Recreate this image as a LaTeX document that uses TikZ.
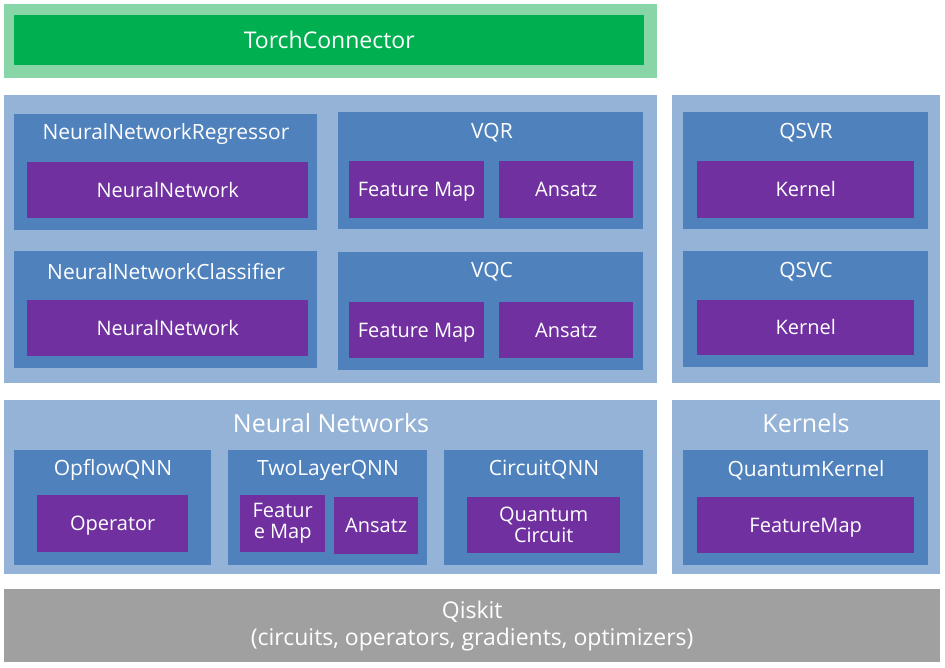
\documentclass[tikz,border=0pt]{standalone}
\usepackage{fontspec}
\setmainfont{Open Sans}
\definecolor{torchlight}{HTML}{88D5A8}
\definecolor{torchgreen}{HTML}{00B050}
\definecolor{panelblue}{HTML}{95B3D7}
\definecolor{blockblue}{HTML}{4F81BD}
\definecolor{partpurple}{HTML}{7030A0}
\definecolor{basegray}{HTML}{A0A0A0}
\begin{document}
\begin{tikzpicture}[x=1pt, y=-1pt, every node/.append style={text=white, inner sep=0pt, font=\fontsize{20}{21}\selectfont},
	panel/.style={fill=panelblue, anchor=north west},
	block/.style={fill=blockblue, anchor=north west},
	part/.style={fill=partpurple, anchor=north west, align=center},
	oneline/.style={text height=16pt, text depth=1.7pt},
	title/.style={anchor=center, font=\fontsize{21}{24}\selectfont},
	bigtitle/.style={anchor=center, font=\fontsize{25}{28}\selectfont}]
	\useasboundingbox (0,0) rectangle (945,668);
	
	% torch connector
	\node[fill=torchlight, anchor=north west, minimum width=653pt, minimum height=74pt] (torchbg) at (4,4) {};
	\node[fill=torchgreen, anchor=north west, minimum width=630pt, minimum height=50pt, font=\fontsize{23}{26}\selectfont] (torch) at (14,15) {TorchConnector};
	
	% algorithms
	\node[panel, minimum width=653pt, minimum height=288pt] (algos) at (4,95) {};
	\node[panel, minimum width=268pt, minimum height=288pt] (kalgos) at (672,95) {};
	
	\node[block, minimum width=303pt, minimum height=116pt] (nnr) at (14,114) {};
	\node[title] (nnrtitle) at (166,134) {NeuralNetworkRegressor};
	\node[part, oneline, minimum width=281pt, minimum height=56pt] (nnrnet) at (27,162) {NeuralNetwork};
	
	\node[block, minimum width=305pt, minimum height=117pt] (vqr) at (338,112) {};
	\node[title] (vqrtitle) at (492,133) {VQR};
	\node[part, oneline, minimum width=135pt, minimum height=57pt] (vqrmap) at (349,161) {Feature Map};
	\node[part, oneline, minimum width=134pt, minimum height=57pt] (vqransatz) at (499,161) {Ansatz};
	
	\node[block, minimum width=303pt, minimum height=117pt] (nnc) at (14,251) {};
	\node[title] (nnctitle) at (166,272) {NeuralNetworkClassifier};
	\node[part, oneline, minimum width=281pt, minimum height=56pt] (nncnet) at (27,300) {NeuralNetwork};
	
	\node[block, minimum width=305pt, minimum height=118pt] (vqc) at (338,252) {};
	\node[title] (vqctitle) at (492,272) {VQC};
	\node[part, oneline, minimum width=135pt, minimum height=56pt] (vqcmap) at (349,302) {Feature Map};
	\node[part, oneline, minimum width=134pt, minimum height=56pt] (vqcansatz) at (499,302) {Ansatz};
	
	\node[block, minimum width=245pt, minimum height=117pt] (qsvr) at (683,112) {};
	\node[title] (qsvrtitle) at (806,133) {QSVR};
	\node[part, oneline, minimum width=217pt, minimum height=57pt] (qsvrkernel) at (697,161) {Kernel};
	
	\node[block, minimum width=245pt, minimum height=116pt] (qsvc) at (683,251) {};
	\node[title] (qsvctitle) at (806,272) {QSVC};
	\node[part, oneline, minimum width=217pt, minimum height=55pt] (qsvckernel) at (697,300) {Kernel};
	
	% neural networks and kernels
	\node[panel, minimum width=653pt, minimum height=174pt] (nets) at (4,400) {};
	\node[bigtitle] (netstitle) at (331,423) {Neural Networks};
	\node[panel, minimum width=268pt, minimum height=174pt] (kernels) at (672,400) {};
	\node[bigtitle] (kernelstitle) at (806,423) {Kernels};
	
	\node[block, minimum width=197pt, minimum height=115pt] (opflow) at (14,450) {};
	\node[title] (opflowtitle) at (113,470) {OpflowQNN};
	\node[part, oneline, minimum width=151pt, minimum height=57pt] (operator) at (37,495) {Operator};
	
	\node[block, minimum width=199pt, minimum height=115pt] (twolayer) at (228,450) {};
	\node[title] (twolayertitle) at (328,470) {TwoLayerQNN};
	\node[part, minimum width=85pt, minimum height=57pt] (twomap) at (240,495) {Featur\\e Map};
	\node[part, oneline, minimum width=84pt, minimum height=57pt] (twoansatz) at (334,497) {Ansatz};
	
	\node[block, minimum width=199pt, minimum height=115pt] (circuitqnn) at (444,450) {};
	\node[title] (circuitqnntitle) at (544,470) {CircuitQNN};
	\node[part, minimum width=153pt, minimum height=56pt] (circuit) at (467,497) {Quantum\\Circuit};
	
	\node[block, minimum width=245pt, minimum height=115pt] (qkernel) at (683,450) {};
	\node[title] (qkerneltitle) at (806,470) {QuantumKernel};
	\node[part, oneline, minimum width=217pt, minimum height=56pt] (featuremap) at (697,497) {FeatureMap};
	
	% qiskit
	\node[fill=basegray, anchor=north west, align=center, minimum width=936pt, minimum height=73pt, font=\fontsize{23}{27}\selectfont] (qiskit) at (4,589) {Qiskit\\(circuits, operators, gradients, optimizers)};
\end{tikzpicture}
\end{document}
